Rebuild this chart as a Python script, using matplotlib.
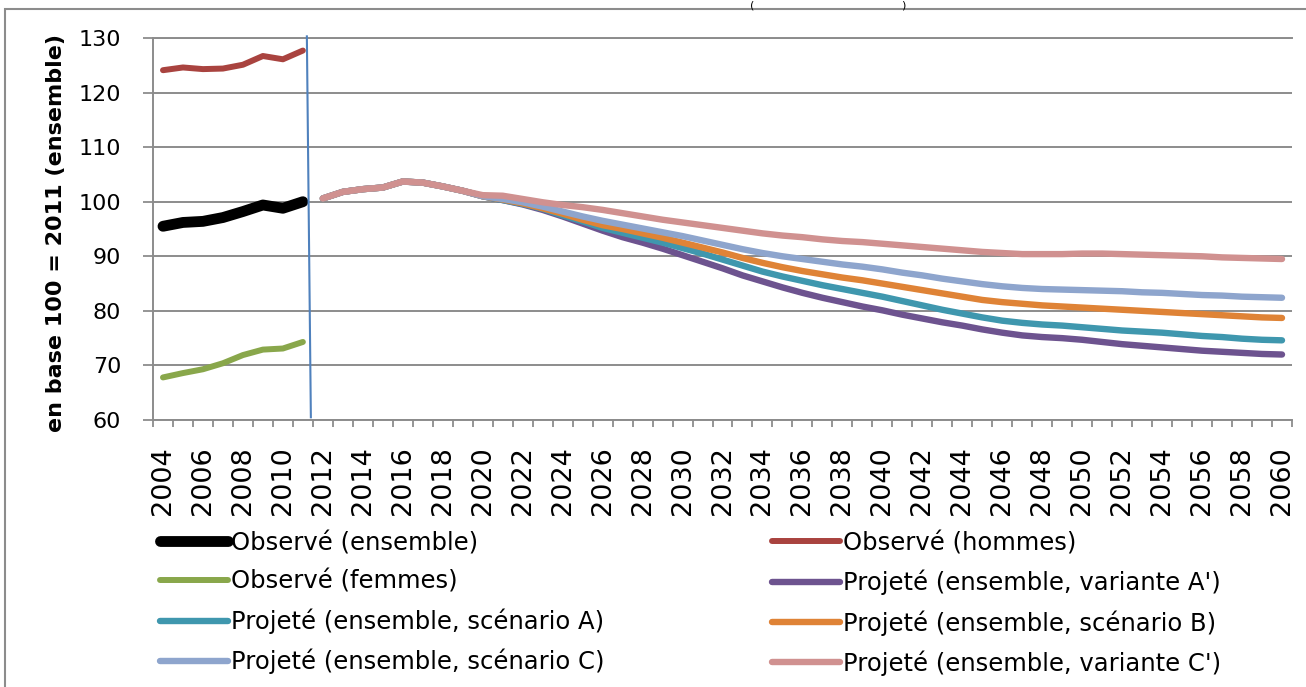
import matplotlib.pyplot as plt
import numpy as np
from matplotlib.patches import Rectangle

# observed years / projected years
YEARS_OBS = list(range(2004, 2012))
YEARS_PROJ = list(range(2012, 2061))

OBS_ENSEMBLE = [95.5, 96.2, 96.4, 97.1, 98.2, 99.4, 98.8, 100.0]
OBS_HOMMES = [124.1, 124.6, 124.3, 124.4, 125.1, 126.7, 126.1, 127.7]
OBS_FEMMES = [67.8, 68.6, 69.3, 70.4, 71.9, 72.9, 73.1, 74.3]

# common start 2012-2019 then the scenarios split
COMMON = [100.6, 101.8, 102.3, 102.6, 103.7, 103.5, 102.8, 102.0]
PROJ_VAR_A = COMMON + [
    101.0, 100.3, 99.5, 98.5, 97.3, 96.0, 94.7, 93.5, 92.5, 91.4,
    90.2, 89.0, 87.8, 86.5, 85.4, 84.3, 83.3, 82.4, 81.6, 80.8,
    80.1, 79.3, 78.6, 77.9, 77.3, 76.6, 76.0, 75.5, 75.2, 75.0,
    74.7, 74.3, 73.9, 73.6, 73.3, 73.0, 72.7, 72.5, 72.3, 72.1, 72.0]
PROJ_SCEN_A = COMMON + [
    101.0, 100.3, 99.6, 98.7, 97.5, 96.4, 95.2, 94.3, 93.4, 92.5,
    91.5, 90.5, 89.4, 88.3, 87.2, 86.3, 85.5, 84.7, 84.0, 83.3,
    82.6, 81.8, 81.0, 80.2, 79.5, 78.8, 78.2, 77.8, 77.5, 77.3,
    77.0, 76.7, 76.4, 76.2, 76.0, 75.7, 75.4, 75.2, 74.9, 74.7, 74.6]
PROJ_SCEN_B = COMMON + [
    101.0, 100.4, 99.7, 98.8, 97.8, 96.7, 95.7, 95.0, 94.2, 93.4,
    92.5, 91.6, 90.7, 89.7, 88.8, 88.0, 87.3, 86.7, 86.1, 85.6,
    85.0, 84.4, 83.8, 83.2, 82.6, 82.0, 81.6, 81.3, 81.0, 80.8,
    80.6, 80.4, 80.2, 80.0, 79.8, 79.6, 79.4, 79.2, 79.0, 78.8, 78.7]
PROJ_SCEN_C = COMMON + [
    101.0, 100.5, 99.9, 99.1, 98.2, 97.3, 96.5, 95.8, 95.1, 94.4,
    93.7, 92.9, 92.1, 91.3, 90.6, 90.0, 89.5, 89.0, 88.5, 88.1,
    87.6, 87.0, 86.5, 85.9, 85.4, 84.9, 84.5, 84.2, 84.0, 83.9,
    83.8, 83.7, 83.6, 83.4, 83.3, 83.1, 82.9, 82.8, 82.6, 82.5, 82.4]
PROJ_VAR_C = COMMON + [
    101.2, 101.1, 100.5, 99.9, 99.4, 99.0, 98.5, 97.9, 97.3, 96.7,
    96.2, 95.7, 95.2, 94.7, 94.2, 93.8, 93.5, 93.1, 92.8, 92.6,
    92.3, 92.0, 91.7, 91.4, 91.1, 90.8, 90.6, 90.4, 90.4, 90.4,
    90.5, 90.5, 90.4, 90.3, 90.2, 90.1, 90.0, 89.8, 89.7, 89.6, 89.5]

SEPARATOR_X = [2011.2, 2011.4]
SEPARATOR_Y = [130.3, 60.5]

XTICK_YEARS = list(range(2004, 2061, 2))
YTICKS = list(range(60, 131, 10))

# (label, years, values, color, width in pt)
SERIES = [
    ("Observé (ensemble)", YEARS_OBS, OBS_ENSEMBLE, "#000000", 7.8),
    ("Observé (hommes)", YEARS_OBS, OBS_HOMMES, "#A9433F", 4.3),
    ("Observé (femmes)", YEARS_OBS, OBS_FEMMES, "#89A74B", 4.3),
    ("Projeté (ensemble, variante A')", YEARS_PROJ, PROJ_VAR_A, "#6D538F", 4.6),
    ("Projeté (ensemble, scénario A)", YEARS_PROJ, PROJ_SCEN_A, "#3F97AE", 4.6),
    ("Projeté (ensemble, scénario B)", YEARS_PROJ, PROJ_SCEN_B, "#DF8336", 4.6),
    ("Projeté (ensemble, scénario C)", YEARS_PROJ, PROJ_SCEN_C, "#8EA5CD", 4.6),
    ("Projeté (ensemble, variante C')", YEARS_PROJ, PROJ_VAR_C, "#D09190", 4.6),
]

W, H = 1306, 687
fig = plt.figure(figsize=(W / 100, H / 100), dpi=100)
ax = fig.add_axes([153 / W, 1 - 420 / H, 1139 / W, 382 / H])

grey = "#8C8C8C"
lines = {}
for label, xs, ys, color, lw in SERIES:
    ln, = ax.plot(xs, ys, color=color, lw=lw, solid_capstyle="round",
                  solid_joinstyle="round", label=label, zorder=3)
    lines[label] = ln

ax.plot(SEPARATOR_X, SEPARATOR_Y, color="#4F81BD", lw=1.5, zorder=4, clip_on=False)

ax.set_xlim(2003.5, 2060.5)
ax.set_ylim(60, 130)
ax.set_yticks(YTICKS)
ax.set_yticklabels([str(v) for v in YTICKS], fontsize=16)
ax.set_xticks(XTICK_YEARS)
ax.set_xticklabels([str(y) for y in XTICK_YEARS], rotation=90, fontsize=19.5)
ax.set_xticks(np.arange(2003.5, 2061, 1), minor=True)
ax.tick_params(axis="x", which="major", length=0, pad=19)
ax.tick_params(axis="x", which="minor", length=5, width=1.3, color=grey, direction="out")
ax.tick_params(axis="y", length=7, width=1.3, color=grey, direction="out", pad=16)

ax.yaxis.grid(True, color=grey, lw=1.4)
ax.set_axisbelow(True)
for side in ["left", "bottom", "top"]:
    ax.spines[side].set_color(grey)
    ax.spines[side].set_linewidth(1.4)
ax.spines["right"].set_visible(False)

ax.set_ylabel("en base 100 = 2011 (ensemble)", fontweight="bold", fontsize=16)
ax.yaxis.set_label_coords(-0.076, 0.49)

# legend: two columns, Excel order row by row
order = [0, 2, 4, 6, 1, 3, 5, 7]
handles = [lines[SERIES[i][0]] for i in order]
labels = [SERIES[i][0] for i in order]
fig.legend(handles, labels, loc="upper left", bbox_to_anchor=(160 / W, 1 - 531 / H),
           ncol=2, frameon=False, prop={"size": 17.5},
           handlelength=2.8, handletextpad=0.12, columnspacing=6.9,
           labelspacing=0.61, borderaxespad=0, borderpad=0)

# chart area border and the clipped title
fig.patches.append(Rectangle((5 / W, -0.1), 1.2, 1.1 - 9 / H, transform=fig.transFigure,
                             fill=False, edgecolor="#8C8C8C", lw=1.5))
fig.text(752 / W, 1 - 1 / H, "(", fontsize=8, ha="center", va="top")
fig.text(903 / W, 1 - 1 / H, ")", fontsize=8, ha="center", va="top")

fig.savefig("out.png", dpi=100)
